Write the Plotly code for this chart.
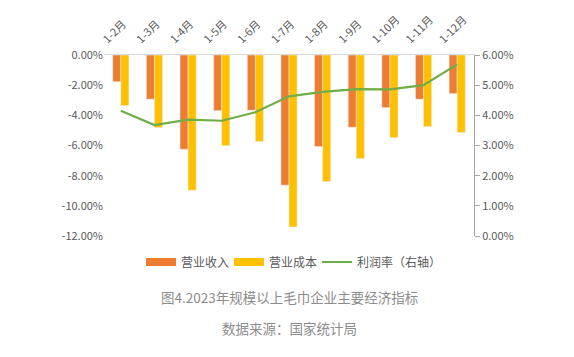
import plotly.graph_objects as go

categories = ["1-2月", "1-3月", "1-4月", "1-5月", "1-6月", "1-7月", "1-8月", "1-9月", "1-10月", "1-11月", "1-12月"]
revenue = [-1.77, -2.93, -6.25, -3.69, -3.66, -8.63, -6.07, -4.79, -3.49, -2.93, -2.56]
cost = [-3.36, -4.81, -8.96, -6.01, -5.74, -11.4, -8.39, -6.87, -5.48, -4.75, -5.14]
profit_rate = [4.15, 3.68, 3.86, 3.82, 4.10, 4.63, 4.78, 4.87, 4.86, 5.00, 5.69]
left_ticks = [0, -2, -4, -6, -8, -10, -12]
right_ticks = [0, 1, 2, 3, 4, 5, 6]

FONT = "Noto Sans CJK SC, Microsoft YaHei, sans-serif"
TXT = "#595959"
C_REV, C_COST, C_LINE = "#ED7D31", "#FFC000", "#70AD47"

fig = go.Figure()
fig.add_trace(go.Bar(x=categories, y=revenue, name="营业收入", marker_color=C_REV, showlegend=False))
fig.add_trace(go.Bar(x=categories, y=cost, name="营业成本", marker_color=C_COST, showlegend=False))
fig.add_trace(go.Scatter(x=categories, y=profit_rate, name="利润率（右轴）", mode="lines",
                         line=dict(color=C_LINE, width=2.2), yaxis="y2", showlegend=False))
# legend entries (wide rectangles like the reference)
fig.add_trace(go.Scatter(x=[None], y=[None], name="营业收入", mode="lines", line=dict(color=C_REV, width=8)))
fig.add_trace(go.Scatter(x=[None], y=[None], name="营业成本", mode="lines", line=dict(color=C_COST, width=8)))
fig.add_trace(go.Scatter(x=[None], y=[None], name="利润率（右轴）", mode="lines", line=dict(color=C_LINE, width=2)))
# invisible spacer entry so the last label is not clipped
fig.add_trace(go.Scatter(x=[None], y=[None], name=" ", mode="lines",
                         line=dict(color="rgba(0,0,0,0)", width=1), hoverinfo="skip"))

fig.update_layout(
    width=574, height=357,
    margin=dict(l=104, r=100, t=55, b=121),
    paper_bgcolor="white", plot_bgcolor="white",
    font=dict(family=FONT, size=11, color=TXT),
    barmode="group", bargap=0.52, bargroupgap=0,
    showlegend=True,
    legend=dict(orientation="h", x=0.1, xanchor="left", y=-0.144, yanchor="middle",
                font=dict(size=12, color=TXT), traceorder="normal", itemwidth=30,
                entrywidth=43, entrywidthmode="pixels", tracegroupgap=0),
    xaxis=dict(side="top", tickangle=-45, showline=True, linecolor="#D9D9D9", linewidth=1,
               ticks="outside", ticklen=4, tickcolor="rgba(0,0,0,0)", showgrid=False,
               ticklabelshift=-17,
               tickfont=dict(size=11, color=TXT), automargin=False),
    yaxis=dict(range=[-12, 0], tickvals=left_ticks,
               ticktext=[f"{v:.2f}%" for v in left_ticks], showgrid=False, zeroline=False,
               tickfont=dict(size=11, color=TXT), automargin=False),
    yaxis2=dict(range=[0, 6], tickvals=right_ticks, ticktext=[f"{v:.2f}%" for v in right_ticks],
                overlaying="y", side="right", showgrid=False, zeroline=False, showline=True,
                linecolor="#A6A6A6", ticks="outside", ticklen=5, tickcolor="#A6A6A6",
                tickfont=dict(size=11, color=TXT), automargin=False),
    annotations=[
        dict(text="图4.2023年规模以上毛巾企业主要经济指标", xref="paper", yref="paper", x=0.5, y=-0.337,
             xanchor="center", yanchor="middle", showarrow=False, font=dict(size=13.5, color="#8C8C8C")),
        dict(text="数据来源：国家统计局", xref="paper", yref="paper", x=0.5, y=-0.508,
             xanchor="center", yanchor="middle", showarrow=False, font=dict(size=13.5, color="#8C8C8C")),
    ],
)

fig.write_html("out.html", post_script="document.body.style.margin='0';",
               config={"displayModeBar": False})
